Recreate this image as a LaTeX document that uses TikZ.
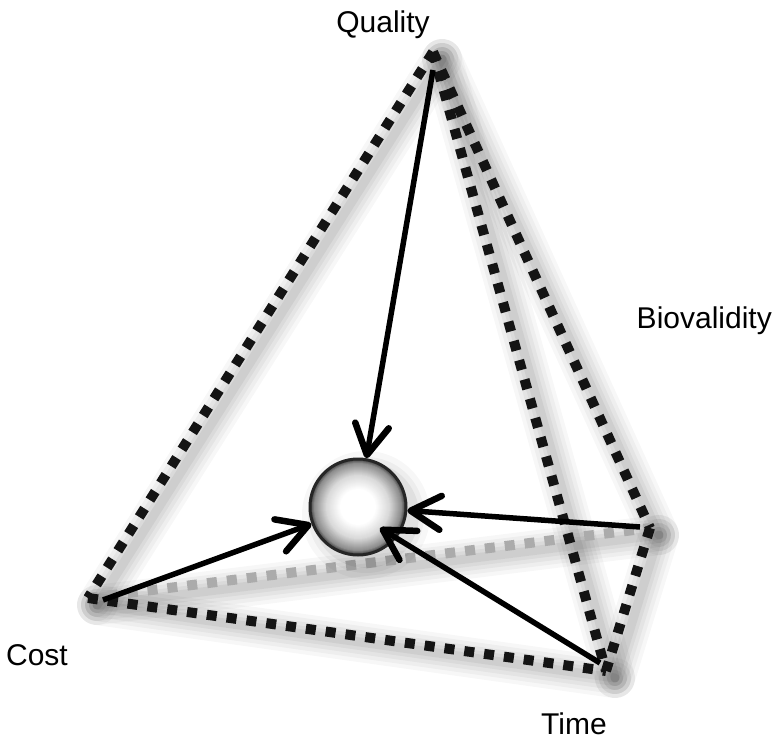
\documentclass[tikz,border=0pt]{standalone}
\usepackage{fontspec}
\setmainfont{Liberation Sans}
\usetikzlibrary{arrows.meta,calc}
\newcommand{\edgeshadow}[2]{%
  \foreach \w/\o in {40/0.03,32/0.035,24/0.04,16/0.045,9/0.05}{%
    \draw[line width=\w pt, black, opacity=\o, line cap=round]
      ($(#1)+(9,7)$) -- ($(#2)+(9,7)$);}}
\begin{document}
\begin{tikzpicture}[x=1pt,y=-1pt,
  edge/.style={line width=10pt, dash pattern=on 10pt off 10pt, black!92},
  backedge/.style={edge, black!33},
  conn/.style={line width=5.5pt, -{Straight Barb[length=30pt,width=34pt,line width=6.5pt,round]}},
  lbl/.style={font=\fontsize{30}{36}\selectfont, inner sep=0pt, anchor=base}]
\useasboundingbox (0,0) rectangle (774,741);
\fill[white] (0,0) rectangle (774,741);
% corners
\coordinate (Q) at (433,52);
\coordinate (C) at (88,598);
\coordinate (B) at (650,528);
\coordinate (T) at (606,671);
\coordinate (Qs) at (433,70);
\coordinate (Cs) at (103,600);
\coordinate (Bs) at (640,527);
\coordinate (Ts) at (600,663);
\coordinate (Ttip) at (380,528);
% shadows
\edgeshadow{Q}{C}
\edgeshadow{Q}{T}
\edgeshadow{Q}{B}
\edgeshadow{B}{T}
\edgeshadow{C}{T}
\edgeshadow{C}{B}
% edges
\draw[backedge] (C) -- (B);
\draw[edge] (Q) -- (C);
\draw[edge] (C) -- (T);
\draw[edge] (Q) -- (T);
\draw[edge] (Q) -- (B);
\draw[edge] (B) -- (T);
% sphere shadow and shading
\foreach \r/\o in {64/0.03,58/0.04,53/0.05}{\fill[black,opacity=\o] (366,515) circle (\r);}
\foreach \r in {48,47,...,1}{%
  \pgfmathsetmacro\p{\r>=44 ? 45+(\r-44)*7.5 : (\r>=32 ? 15+(\r-32)*2.5 : (\r>=18 ? (\r-18)*15/14 : 0))}
  \fill[black!\p!white] (358,507) circle (\r);}
\node[circle, minimum size=96pt, inner sep=0pt, draw=black!85, line width=3pt] (S) at (358,507) {};
% arrows
\draw[conn] (Qs) -- (S);
\draw[conn] (Cs) -- (S);
\draw[conn] (Bs) -- (S);
\draw[conn] (Ts) -- (Ttip);
% labels
\node[lbl] (Lq) at (383,33) {Quality};
\node[lbl, anchor=base east] (Lb) at (772,328) {Biovalidity};
\node[lbl] (Lc) at (37,665) {Cost};
\node[lbl] (Lt) at (574,734) {Time};
\end{tikzpicture}
\end{document}
